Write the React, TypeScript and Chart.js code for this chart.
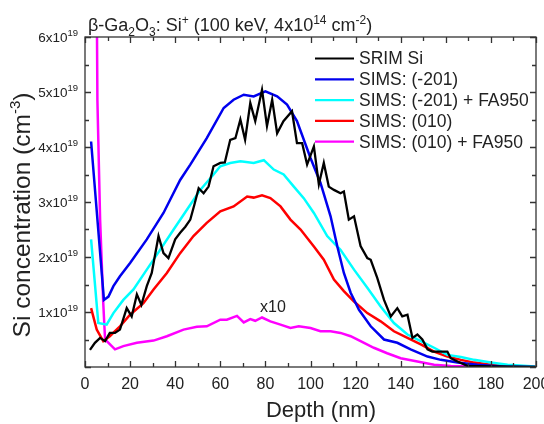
import { useEffect, useRef } from 'react';
import { Chart, registerables } from 'chart.js';
Chart.register(...registerables);

// Depth (nm) / concentration (x1e19 cm^-3)
const srimDepth = [2.2, 4.4, 6.7, 8.9, 11, 13.3, 15.5, 18.5, 20.7, 23, 25, 27.4, 29.6, 32.6, 34.8, 37, 40, 42.2, 44.5, 46.7, 48.5, 50.4, 52.6, 54.8, 57, 60, 62, 64.4, 66.7, 68.9, 71, 73.3, 75.5, 78.5, 80.7, 83, 85.2, 88, 91.8, 94, 96.3, 98.5, 101.5, 103.7, 105.9, 108.1, 110.4, 113.3, 114.8, 117, 119.3, 122.2, 125.2, 126.7, 129.6, 132.6, 135.6, 138.5, 140.7, 143, 145.2, 147.4, 149.6, 151.9, 154, 156.3, 160.7, 162.2, 165.2, 169.6, 180, 200];
const srimConc = [0.31, 0.44, 0.53, 0.47, 0.62, 0.62, 0.68, 1.07, 0.92, 1.32, 1.13, 1.47, 1.71, 2.38, 2.07, 1.98, 2.32, 2.44, 2.55, 2.68, 2.95, 3.25, 3.16, 3.28, 3.65, 3.71, 3.72, 4.13, 4.16, 4.5, 4.13, 4.8, 4.47, 5.04, 4.38, 4.86, 4.25, 4.47, 4.65, 4.07, 4.07, 3.68, 4.01, 3.32, 3.71, 3.28, 3.22, 3.16, 3.19, 2.68, 2.74, 2.2, 1.98, 1.95, 1.62, 1.22, 0.92, 1.07, 0.92, 0.95, 0.53, 0.59, 0.5, 0.32, 0.28, 0.28, 0.28, 0.16, 0.1, 0.02, 0.01, 0.0];

const s201Depth = [2.7, 8.4, 10.4, 12.6, 15.5, 20, 27.4, 34.8, 42.2, 46.7, 54, 61.5, 65.9, 70.4, 74.8, 80, 85.2, 89.6, 94, 100, 104.4, 108.9, 111.9, 114.8, 117.8, 121.5, 126.7, 132.6, 138.5, 144.4, 151.9, 157.8, 165.2, 174, 184.4, 199.5];
const s201Conc = [4.1, 1.22, 1.28, 1.47, 1.65, 1.89, 2.32, 2.8, 3.4, 3.68, 4.16, 4.71, 4.86, 4.95, 4.92, 5.01, 4.92, 4.77, 4.47, 3.8, 3.35, 2.74, 2.19, 1.71, 1.35, 1.04, 0.74, 0.5, 0.44, 0.32, 0.19, 0.13, 0.08, 0.04, 0.01, 0.0];

const s201faDepth = [2.7, 5.9, 9.6, 12.6, 17, 21.5, 27.4, 33.3, 39.3, 45.2, 51.1, 57, 60, 64.4, 68.9, 74.8, 79.3, 83.7, 88.1, 92.6, 97, 101.5, 107.4, 113.3, 119.3, 125.2, 131.1, 137, 143, 148.9, 154.8, 160.7, 166.7, 172.6, 180, 187.4, 199.5];
const s201faConc = [2.32, 0.8, 0.77, 0.98, 1.22, 1.41, 1.77, 2.13, 2.5, 2.86, 3.22, 3.5, 3.65, 3.71, 3.74, 3.71, 3.76, 3.59, 3.5, 3.28, 3.07, 2.8, 2.38, 2.13, 1.77, 1.44, 1.1, 0.8, 0.59, 0.47, 0.35, 0.22, 0.18, 0.13, 0.08, 0.04, 0.01];

const s010Depth = [2.7, 5.2, 8.1, 11, 15.5, 20, 25.9, 30.4, 36.3, 42.2, 48.1, 54, 60, 65.9, 71.9, 74.8, 78.5, 82.2, 86.7, 91.1, 95.6, 101.5, 105.9, 110.4, 114.8, 119.3, 125.2, 131.1, 137, 143, 148.9, 154.8, 160.7, 166.7, 172.6, 180, 191.9, 199.5];
const s010Conc = [1.07, 0.68, 0.47, 0.56, 0.74, 0.95, 1.16, 1.41, 1.71, 2.07, 2.38, 2.62, 2.83, 2.92, 3.1, 3.08, 3.12, 3.07, 2.92, 2.68, 2.5, 2.19, 1.95, 1.59, 1.38, 1.19, 0.98, 0.83, 0.65, 0.53, 0.41, 0.28, 0.19, 0.13, 0.08, 0.04, 0.01, 0.0];

const s010faDepth = [5.1, 5.5, 6.7, 8.1, 8.9, 13.3, 17, 23, 30.4, 36.3, 43.7, 49.6, 54, 60, 62.9, 67.4, 70.4, 73.3, 75.5, 78.5, 82.2, 86.7, 91.1, 94.8, 100, 104.4, 108.9, 113.3, 117.8, 122.2, 128.1, 134, 140, 147.4, 154.8, 162.2, 175, 199.5];
const s010faConc = [7.5, 4.85, 2.68, 1.16, 0.5, 0.32, 0.38, 0.44, 0.48, 0.56, 0.68, 0.73, 0.74, 0.86, 0.86, 0.93, 0.81, 0.87, 0.84, 0.9, 0.83, 0.77, 0.71, 0.74, 0.71, 0.65, 0.65, 0.62, 0.56, 0.47, 0.35, 0.25, 0.16, 0.1, 0.04, 0.02, 0.01, 0.0];

const seriesNames = ['SRIM Si', 'SIMS: (-201)', 'SIMS: (-201) + FA950', 'SIMS: (010)', 'SIMS: (010) + FA950'];
const seriesColors = ['#000000', '#0000ee', '#00ffff', '#ff0000', '#ff00ff'];

const xMajorTicks = [0, 20, 40, 60, 80, 100, 120, 140, 160, 180, 200];
const xMinorTicks = [10, 30, 50, 70, 90, 110, 130, 150, 170, 190];
const yMajorTicks = [0, 1, 2, 3, 4, 5, 6];
const yMinorTicks = [0.5, 1.5, 2.5, 3.5, 4.5, 5.5];

const FONT = "'Liberation Sans', Arial, sans-serif";

type Part = [string, number, number];

function richWidth(ctx: CanvasRenderingContext2D, parts: Part[]) {
  let w = 0;
  for (const [t, s] of parts) {
    ctx.font = `${s}px ${FONT}`;
    w += ctx.measureText(t).width;
  }
  return w;
}

function drawRich(ctx: CanvasRenderingContext2D, parts: Part[], x: number, y: number, align: 'left' | 'right' | 'center' = 'left') {
  const w = richWidth(ctx, parts);
  let cx = align === 'left' ? x : align === 'right' ? x - w : x - w / 2;
  ctx.textAlign = 'left';
  ctx.textBaseline = 'alphabetic';
  for (const [t, s, dy] of parts) {
    ctx.font = `${s}px ${FONT}`;
    ctx.fillText(t, cx, y + dy);
    cx += ctx.measureText(t).width;
  }
}

const decorPlugin = {
  id: 'decor',
  afterDraw(chart: any) {
    const ctx: CanvasRenderingContext2D = chart.ctx;
    const { left, right, top, bottom } = chart.chartArea;
    const xs = chart.scales.x;
    const ys = chart.scales.y;
    ctx.save();
    ctx.strokeStyle = '#333';
    ctx.fillStyle = '#222';
    ctx.lineWidth = 1.3;
    ctx.strokeRect(left, top, right - left, bottom - top);
    ctx.beginPath();
    const majL = 6, minL = 4;
    for (const v of xMajorTicks) {
      const px = Math.round(xs.getPixelForValue(v)) + 0.5;
      ctx.moveTo(px, bottom); ctx.lineTo(px, bottom - majL);
      ctx.moveTo(px, top); ctx.lineTo(px, top + majL);
    }
    for (const v of xMinorTicks) {
      const px = Math.round(xs.getPixelForValue(v)) + 0.5;
      ctx.moveTo(px, bottom); ctx.lineTo(px, bottom - minL);
      ctx.moveTo(px, top); ctx.lineTo(px, top + minL);
    }
    for (const v of yMajorTicks) {
      const py = Math.round(ys.getPixelForValue(v)) + 0.5;
      ctx.moveTo(left, py); ctx.lineTo(left + majL, py);
      ctx.moveTo(right, py); ctx.lineTo(right - majL, py);
    }
    for (const v of yMinorTicks) {
      const py = Math.round(ys.getPixelForValue(v)) + 0.5;
      ctx.moveTo(left, py); ctx.lineTo(left + minL, py);
      ctx.moveTo(right, py); ctx.lineTo(right - minL, py);
    }
    ctx.stroke();

    // x tick labels
    ctx.fillStyle = '#222';
    ctx.font = `16px ${FONT}`;
    ctx.textAlign = 'center';
    ctx.textBaseline = 'alphabetic';
    for (const v of xMajorTicks) {
      ctx.fillText(String(v), xs.getPixelForValue(v), bottom + 22);
    }
    // y tick labels
    for (const v of yMajorTicks) {
      if (v === 0) continue;
      const py = ys.getPixelForValue(v);
      drawRich(ctx, [[`${v}x10`, 13.5, 0], ['19', 9.5, -6]], left - 7, py + 5, 'right');
    }
    // titles
    drawRich(ctx, [[`Depth (nm)`, 22, 0]], 321, bottom + 50, 'center');
    ctx.save();
    ctx.translate(30, 215);
    ctx.rotate(-Math.PI / 2);
    drawRich(ctx, [['Si concentration (cm', 24.5, 0], ['-3', 15, -10], [')', 24.5, 0]], 0, 0, 'center');
    ctx.restore();
    drawRich(ctx, [
      ['\u03b2-Ga', 18, 0], ['2', 12, 5], ['O', 18, 0], ['3', 12, 5], [': Si', 18, 0], ['+', 12, -7],
      [' (100 keV, 4x10', 18, 0], ['14', 12, -7], [' cm', 18, 0], ['-2', 12, -7], [')', 18, 0]
    ], 88, 31, 'left');

    // legend
    ctx.lineWidth = 2.2;
    for (let i = 0; i < seriesNames.length; i++) {
      const ly = 58.5 + i * 20.8;
      ctx.strokeStyle = seriesColors[i];
      ctx.beginPath();
      ctx.moveTo(315, ly); ctx.lineTo(354, ly);
      ctx.stroke();
      ctx.fillStyle = '#222';
      ctx.font = `17.5px ${FONT}`;
      ctx.textAlign = 'left';
      ctx.textBaseline = 'middle';
      ctx.fillText(seriesNames[i], 359, ly + 1);
    }
    // annotation
    ctx.font = `16px ${FONT}`;
    ctx.textAlign = 'center';
    ctx.textBaseline = 'middle';
    ctx.fillText('x10', 273, 308);
    ctx.restore();
  },
};

function mk(d: number[], c: number[]) {
  return d.map((x, i) => ({ x, y: c[i] }));
}

export default function App() {
  const ref = useRef<HTMLCanvasElement>(null);
  useEffect(() => {
    document.body.style.margin = '0';
    const canvas = ref.current!;
    const data = [
      mk(srimDepth, srimConc),
      mk(s201Depth, s201Conc),
      mk(s201faDepth, s201faConc),
      mk(s010Depth, s010Conc),
      mk(s010faDepth, s010faConc),
    ];
    const chart = new Chart(canvas, {
      type: 'line',
      data: {
        datasets: data.map((pts, i) => ({
          label: seriesNames[i],
          data: pts,
          borderColor: seriesColors[i],
          backgroundColor: seriesColors[i],
          borderWidth: i === 0 ? 2.3 : 2.5,
          pointRadius: 0,
          tension: 0,
          fill: false,
          order: i === 0 ? 0 : 1,
        })),
      },
      options: {
        animation: false,
        responsive: false,
        devicePixelRatio: 1,
        layout: { padding: { left: 85, right: 8, top: 37, bottom: 57 } },
        plugins: { legend: { display: false }, tooltip: { enabled: false }, title: { display: false } },
        scales: {
          x: {
            type: 'linear', min: 0, max: 200,
            ticks: { display: false }, grid: { display: false }, border: { display: false },
            afterFit: (s: any) => { s.height = 0; },
          },
          y: {
            type: 'linear', min: 0, max: 6,
            ticks: { display: false }, grid: { display: false }, border: { display: false },
            afterFit: (s: any) => { s.width = 0; },
          },
        },
      } as any,
      plugins: [decorPlugin],
    });
    return () => chart.destroy();
  }, []);
  return (
    <div style={{ width: 544, height: 424, background: '#fff' }}>
      <canvas ref={ref} width={544} height={424} style={{ display: 'block' }} />
    </div>
  );
}
